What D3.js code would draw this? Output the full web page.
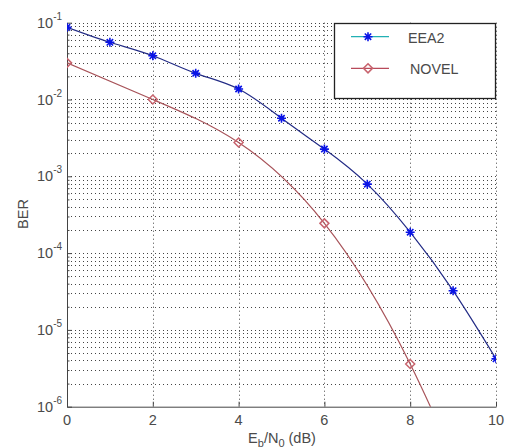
<!DOCTYPE html>
<html>
<head>
<meta charset="utf-8">
<script src="https://cdn.jsdelivr.net/npm/d3@7/dist/d3.min.js"></script>
<style>
  html, body { margin: 0; padding: 0; background: #fff; }
  svg { display: block; }
  text { font-family: "Liberation Sans", Arial, sans-serif; fill: #4a4a4a; }
</style>
</head>
<body>
<svg id="chart" width="509" height="448"></svg>
<script>
// Eb/N0 points and measured BER for each scheme
const ebn0 = [0, 1, 2, 3, 4, 5, 6, 7, 8, 9, 10];
const eea2 = [0.087, 0.0556, 0.0371, 0.0219, 0.0137, 0.0057, 0.00226, 7.9e-4, 1.87e-4, 3.24e-5, 4.2e-6];
const novelX = [0, 2, 4, 6, 8, 10];
const novel = [0.030, 0.0100, 0.00275, 2.44e-4, 3.6e-6, 1e-8];

const xTicks = [0, 2, 4, 6, 8, 10];
const yExponents = [-1, -2, -3, -4, -5, -6];
const seriesNames = ["EEA2", "NOVEL"];

const svg = d3.select("#chart");
const plotLeft = 67, plotRight = 496, plotTop = 22.7, plotBottom = 406.7;

const x = d3.scaleLinear().domain([0, 10]).range([plotLeft, plotRight]);
const y = d3.scaleLog().domain([1e-6, 1e-1]).range([plotBottom, plotTop]);

svg.append("defs").append("clipPath").attr("id", "plotClip")
  .append("rect").attr("x", plotLeft).attr("y", plotTop)
  .attr("width", plotRight - plotLeft).attr("height", plotBottom - plotTop);

// grid: dotted major + minor decades, vertical lines at x ticks
const grid = svg.append("g").attr("stroke", "#444").attr("stroke-width", 1)
  .attr("stroke-dasharray", "1,3").attr("fill", "none");
const minorVals = [];
for (let e = -6; e < -1; e++) {
  for (let m = 2; m <= 9; m++) minorVals.push(m * Math.pow(10, e));
}
const majorVals = yExponents.map(e => Math.pow(10, e));
grid.selectAll("line.h").data(minorVals.concat(majorVals.filter(v => v > 1e-6)))
  .join("line").attr("class", "h")
  .attr("x1", plotLeft).attr("x2", plotRight)
  .attr("y1", d => Math.round(y(d)) + 0.5).attr("y2", d => Math.round(y(d)) + 0.5);
grid.selectAll("line.v").data(xTicks.filter(t => t > 0))
  .join("line").attr("class", "v")
  .attr("x1", d => Math.round(x(d)) + 0.5).attr("x2", d => Math.round(x(d)) + 0.5)
  .attr("y1", plotTop).attr("y2", plotBottom);

// axes (left and bottom, ticks pointing inward)
const axisColor = "#444";
const xAxis = d3.axisBottom(x).tickValues(xTicks).tickSize(-5).tickFormat("").tickSizeOuter(0);
svg.append("g").attr("transform", `translate(0,${plotBottom})`).call(xAxis)
  .call(g => g.select(".domain").attr("stroke", axisColor))
  .call(g => g.selectAll(".tick line").attr("stroke", axisColor));
const yAxis = d3.axisLeft(y).tickValues(majorVals).tickSize(-5).tickFormat("").tickSizeOuter(0);
svg.append("g").attr("transform", `translate(${plotLeft},0)`).call(yAxis)
  .call(g => g.select(".domain").attr("stroke", axisColor))
  .call(g => g.selectAll(".tick line").attr("stroke", axisColor));
svg.append("g").attr("transform", `translate(${plotLeft},0)`)
  .call(d3.axisLeft(y).tickValues(minorVals).tickSize(-2.5).tickFormat("").tickSizeOuter(0))
  .call(g => g.select(".domain").remove())
  .call(g => g.selectAll(".tick line").attr("stroke", axisColor));

// x tick labels
svg.append("g").selectAll("text").data(xTicks).join("text")
  .attr("x", d => x(d)).attr("y", 425)
  .attr("text-anchor", "middle").attr("font-size", 14.5)
  .text(d => d);

// y tick labels as powers of ten
const yl = svg.append("g").selectAll("text").data(yExponents).join("text")
  .attr("y", d => y(Math.pow(10, d)) + 5)
  .attr("font-size", 14.5);
yl.append("tspan").attr("x", 37).text("10");
yl.append("tspan").attr("dy", -8).attr("font-size", 10).text(d => "-" + Math.abs(d));

// axis titles
const xl = svg.append("text").attr("x", 282).attr("y", 443)
  .attr("text-anchor", "middle").attr("font-size", 14.5);
xl.append("tspan").text("E");
xl.append("tspan").attr("dy", 4).attr("font-size", 11).text("b");
xl.append("tspan").attr("dy", -4).text("/N");
xl.append("tspan").attr("dy", 4).attr("font-size", 11).text("0");
xl.append("tspan").attr("dy", -4).text(" (dB)");

svg.append("text").attr("transform", `translate(28,214) rotate(-90)`)
  .attr("text-anchor", "middle").attr("font-size", 14.5).text("BER");

// series, smoothed with a natural cubic spline
const plot = svg.append("g").attr("clip-path", "url(#plotClip)");
const line = d3.line().curve(d3.curveNatural).x(d => x(d[0])).y(d => y(d[1]));

const eeaPts = ebn0.map((v, i) => [v, eea2[i]]);
const novPts = novelX.map((v, i) => [v, novel[i]]);

const starPath = r => {
  const d = r * Math.SQRT1_2;
  return `M${-r},0L${r},0M0,${-r}L0,${r}M${-d},${-d}L${d},${d}M${-d},${d}L${d},${-d}`;
};
const diamondPath = r => `M0,${-r}L${r},0L0,${r}L${-r},0Z`;

plot.append("path").datum(eeaPts).attr("d", line)
  .attr("fill", "none").attr("stroke", "#232c86").attr("stroke-width", 1.2);
plot.append("path").datum(novPts).attr("d", line)
  .attr("fill", "none").attr("stroke", "#a8545a").attr("stroke-width", 1.2);

plot.selectAll("path.star").data(eeaPts).join("path").attr("class", "star")
  .attr("transform", d => `translate(${x(d[0])},${y(d[1])})`)
  .attr("d", starPath(4.5)).attr("stroke", "#0a14e6").attr("stroke-width", 1.6).attr("fill", "none");
plot.selectAll("path.dia").data(novPts).join("path").attr("class", "dia")
  .attr("transform", d => `translate(${x(d[0])},${y(d[1])})`)
  .attr("d", diamondPath(4.5)).attr("stroke", "#c8646e").attr("stroke-width", 1.5).attr("fill", "none");

// legend
const lg = svg.append("g");
lg.append("rect").attr("x", 334.5).attr("y", 23.5).attr("width", 161).attr("height", 75)
  .attr("fill", "#fff").attr("stroke", "#222").attr("stroke-width", 1.3);
const legendRows = [
  { name: seriesNames[0], y: 36.7, lineColor: "#22b0b4", marker: starPath(4.5), mColor: "#0a14e6" },
  { name: seriesNames[1], y: 68.3, lineColor: "#b84a5a", marker: diamondPath(4.5), mColor: "#c8646e" }
];
const rows = lg.selectAll("g.row").data(legendRows).join("g").attr("class", "row");
rows.append("line").attr("x1", 351).attr("x2", 389).attr("y1", d => d.y).attr("y2", d => d.y)
  .attr("stroke", d => d.lineColor).attr("stroke-width", 1.3);
rows.append("path").attr("transform", d => `translate(368,${d.y})`).attr("d", d => d.marker)
  .attr("stroke", d => d.mColor).attr("stroke-width", 1.6).attr("fill", "none");
rows.append("text").attr("x", (d, i) => i === 0 ? 408 : 410).attr("y", d => d.y + 6)
  .attr("font-size", 14.3).text(d => d.name);
</script>
</body>
</html>
